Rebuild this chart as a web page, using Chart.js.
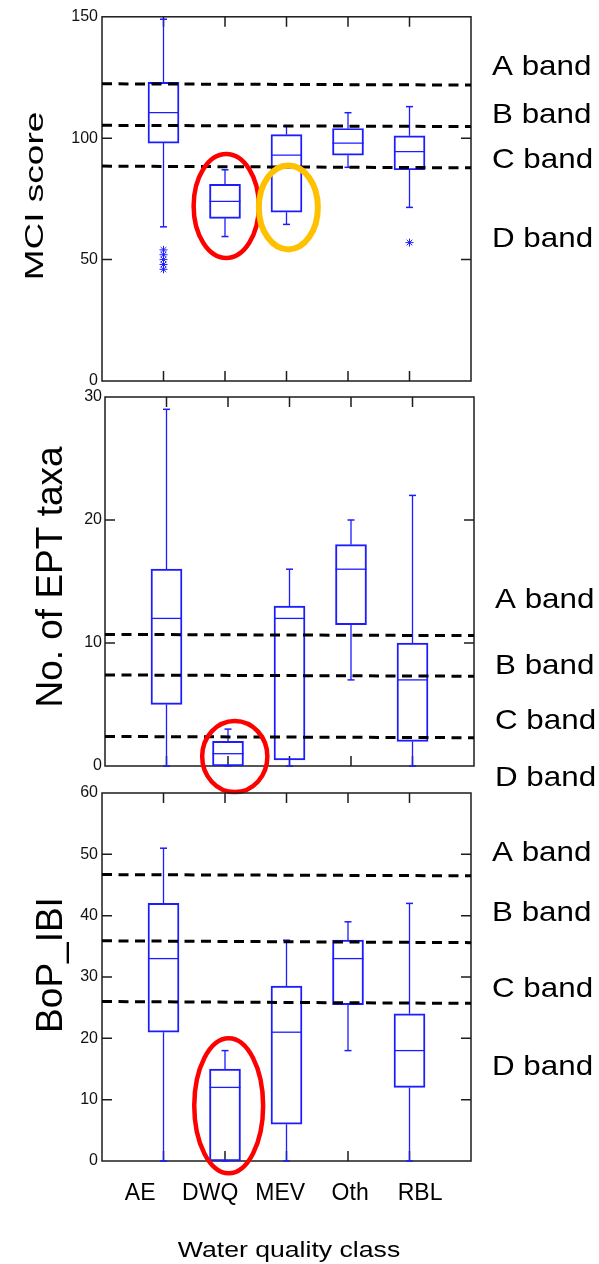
<!DOCTYPE html>
<html>
<head>
<meta charset="utf-8">
<title>Water quality class box plots</title>
<script src="https://cdn.jsdelivr.net/npm/chart.js@4.4.1/dist/chart.umd.min.js"></script>
<style>
  html, body { margin: 0; padding: 0; background: #fff; }
  #wrap { position: relative; width: 599px; height: 1264px; }
  #wrap canvas { position: absolute; left: 0; top: 0; }
</style>
</head>
<body>
<div id="wrap">
  <canvas id="mciChart" width="599" height="1264"></canvas>
  <canvas id="eptChart" width="599" height="1264"></canvas>
  <canvas id="bopChart" width="599" height="1264"></canvas>
</div>
<script>
const classes = ["AE", "DWQ", "MEV", "Oth", "RBL"];
const bandNames = ["A band", "B band", "C band", "D band"];

// MCI score
const mciMin = [63.5, 59.5, 64.5, 88, 71.5];
const mciQ1  = [98, 67, 69.5, 93, 87];
const mciMed = [110.5, 74, 93, 98, 94.5];
const mciQ3  = [123, 81, 101.5, 104, 101];
const mciMax = [149, 87, 105, 110.5, 113];
const mciOut = [[54, 52, 50, 48, 46], [], [], [], [57]];
const mciBands = [[122.4, 121.9], [105.3, 104.8], [88.5, 87.8]]; // left / right end

// No. of EPT taxa
const eptMin = [0, 0, 0, 7, 0];
const eptQ1  = [5, 0, 0.5, 11.5, 2];
const eptMed = [12, 1, 12, 16, 7];
const eptQ3  = [16, 2, 13, 18, 10];
const eptMax = [29, 3, 16, 20, 22];
const eptOut = [[], [], [], [], []];
const eptBands = [[10.7, 10.6], [7.4, 7.3], [2.4, 2.3]];

// BoP_IBI
const bopMin = [0, 0, 0, 18, 0];
const bopQ1  = [21, 0, 6, 25.5, 12];
const bopMed = [33, 12, 21, 33, 18];
const bopQ3  = [42, 15, 28.5, 36, 24];
const bopMax = [51, 18, 36, 39, 42];
const bopOut = [[], [], [], [], []];
const bopBands = [[46.7, 46.5], [35.9, 35.6], [26, 25.7]];

// highlight rings (centre x/y and radii in axis units)
const mciRings = [
  { x: 2.02, y: 72.1, rx: 0.53, ry: 21.4, color: "#ff0000", w: 4.5 },
  { x: 3.03, y: 71.5, rx: 0.48, ry: 17.3, color: "#ffc000", w: 6 }
];
const eptRings = [{ x: 2.11, y: 0.77, rx: 0.53, ry: 2.89, color: "#ff0000", w: 4.5 }];
const bopRings = [{ x: 2.06, y: 9.0, rx: 0.56, ry: 11.0, color: "#ff0000", w: 4.5 }];

const FONT = "'Liberation Sans', Arial, sans-serif";
const BLUE = "rgb(28,28,255)";

function boxDatasets(min, q1, med, q3, max, outliers, bands) {
  const whiskers = [];
  const caps = [];
  classes.forEach((c, i) => {
    const x = i + 1;
    whiskers.push({ x, y: max[i] }, { x, y: q3[i] }, { x, y: null },
                  { x, y: q1[i] }, { x, y: min[i] }, { x, y: null });
    caps.push({ x, y: max[i] }, { x, y: min[i] });
  });
  const outPts = [];
  outliers.forEach((list, i) => list.forEach(v => outPts.push({ x: i + 1, y: v })));

  const sets = [
    {
      type: "bar", order: 5,
      data: classes.map((c, i) => ({ x: i + 1, y: [q1[i], q3[i]] })),
      barThickness: 31, borderWidth: 1.3, borderSkipped: false,
      borderColor: BLUE, backgroundColor: "rgba(0,0,0,0)"
    },
    {
      type: "line", order: 4, data: whiskers,
      borderColor: BLUE, borderWidth: 1.3, pointRadius: 0, spanGaps: false
    },
    {
      type: "scatter", order: 3, data: classes.map((c, i) => ({ x: i + 1, y: med[i] })),
      pointStyle: "line", pointRadius: 15.5, borderColor: BLUE, borderWidth: 1.3
    },
    {
      type: "scatter", order: 3, data: caps, clip: false,
      pointStyle: "line", pointRadius: 3.5, borderColor: BLUE, borderWidth: 1.5
    },
    {
      type: "scatter", order: 3, data: outPts,
      pointStyle: "star", pointRadius: 4, borderColor: BLUE, borderWidth: 1
    }
  ];
  bands.forEach(b => sets.push({
    type: "line", order: 0,
    data: [{ x: 0, y: b[0] }, { x: 6, y: b[1] }],
    borderColor: "#000", borderWidth: 3, borderDash: [10, 6.5], pointRadius: 0
  }));
  return sets;
}

// frame with inward ticks, axis title, band names, rings
function decor(cfg) {
  return {
    id: "decor",
    beforeDatasetsDraw(chart) {
      const { ctx, chartArea: a, scales: { x, y } } = chart;
      ctx.save();
      ctx.strokeStyle = "#1c1c1c";
      ctx.lineWidth = 1.5;
      ctx.strokeRect(a.left, a.top, a.width, a.height);
      ctx.beginPath();
      y.ticks.forEach(t => {
        if (t.value <= y.min || t.value >= y.max) return;
        const py = y.getPixelForValue(t.value);
        ctx.moveTo(a.left, py); ctx.lineTo(a.left + 10, py);
        ctx.moveTo(a.right, py); ctx.lineTo(a.right - 10, py);
      });
      classes.forEach((c, i) => {
        const px = x.getPixelForValue(i + 1);
        ctx.moveTo(px, a.top); ctx.lineTo(px, a.top + 10);
        ctx.moveTo(px, a.bottom); ctx.lineTo(px, a.bottom - 10);
      });
      ctx.stroke();
      ctx.restore();
    },
    afterDraw(chart) {
      const { ctx, chartArea: a, scales: { x, y } } = chart;
      ctx.save();
      ctx.fillStyle = "#000";

      // y axis title, rotated
      ctx.save();
      ctx.translate(cfg.titleX, cfg.titleY);
      ctx.rotate(-Math.PI / 2);
      ctx.scale(1, cfg.titleSquash);
      ctx.font = "37px " + FONT;
      ctx.textAlign = "center";
      ctx.textBaseline = "alphabetic";
      ctx.fillText(cfg.title, 0, 0);
      ctx.restore();

      // band names on the right
      bandNames.forEach((name, i) => {
        ctx.save();
        ctx.translate(cfg.bandX, a.top + cfg.bandY[i]);
        ctx.scale(1.12, 1);
        ctx.font = "28px " + FONT;
        ctx.textAlign = "left";
        ctx.textBaseline = "alphabetic";
        ctx.fillText(name, 0, 0);
        ctx.restore();
      });

      if (cfg.xTitle) {
        ctx.save();
        ctx.translate(289, 1257);
        ctx.scale(1.21, 1);
        ctx.font = "22px " + FONT;
        ctx.textAlign = "center";
        ctx.textBaseline = "alphabetic";
        ctx.fillText(cfg.xTitle, 0, 0);
        ctx.restore();
      }

      cfg.rings.forEach(r => {
        const cx = x.getPixelForValue(r.x), cy = y.getPixelForValue(r.y);
        const rx = Math.abs(x.getPixelForValue(r.x + r.rx) - cx);
        const ry = Math.abs(y.getPixelForValue(r.y + r.ry) - cy);
        ctx.beginPath();
        ctx.ellipse(cx, cy, rx, ry, 0, 0, Math.PI * 2);
        ctx.strokeStyle = r.color;
        ctx.lineWidth = r.w;
        ctx.stroke();
      });
      ctx.restore();
    }
  };
}

function makePanel(canvasId, p) {
  const scales = {
    x: { type: "linear", min: 0, max: 6, display: false, offset: false },
    y: {
      type: "linear", min: p.yMin, max: p.yMax,
      grid: { display: false, drawTicks: false }, border: { display: false },
      ticks: { stepSize: p.yStep, padding: p.tickPad, color: "#111", font: { family: FONT, size: 16 } },
      afterFit: s => { s.width = 40; }
    }
  };
  if (p.showClasses) {
    scales.xl = {
      type: "linear", position: "bottom", min: 0.454, max: 5.727,
      grid: { display: false, drawTicks: false }, border: { display: false },
      ticks: {
        autoSkip: false, maxRotation: 0, padding: 19, color: "#000",
        font: { family: FONT, size: 23 },
        callback: v => classes[v - 1] || ""
      },
      afterBuildTicks: s => { s.ticks = classes.map((c, i) => ({ value: i + 1 })); },
      afterFit: s => { s.height = 60; }
    };
  }
  new Chart(document.getElementById(canvasId), {
    type: "scatter",
    data: { datasets: p.datasets },
    options: {
      responsive: false, animation: false, devicePixelRatio: 1,
      layout: { padding: p.padding },
      plugins: { legend: { display: false }, tooltip: { enabled: false } },
      scales
    },
    plugins: [decor(p.decor)]
  });
}

makePanel("mciChart", {
  yMin: 0, yMax: 150, yStep: 50, tickPad: 4,
  padding: { left: 62, right: 128, top: 13, bottom: 883 },
  datasets: boxDatasets(mciMin, mciQ1, mciMed, mciQ3, mciMax, mciOut, mciBands),
  decor: { title: "MCI score", titleX: 43, titleY: 196, titleSquash: 0.68,
           bandX: 492, bandY: [58, 106, 151, 230], rings: mciRings }
});

makePanel("eptChart", {
  yMin: 0, yMax: 30, yStep: 10, tickPad: 3,
  padding: { left: 65, right: 125, top: 397, bottom: 498 },
  datasets: boxDatasets(eptMin, eptQ1, eptMed, eptQ3, eptMax, eptOut, eptBands),
  decor: { title: "No. of EPT taxa", titleX: 62, titleY: 577, titleSquash: 1,
           bandX: 495, bandY: [211, 277, 332, 389], rings: eptRings }
});

makePanel("bopChart", {
  yMin: 0, yMax: 60, yStep: 10, tickPad: 4, showClasses: true,
  padding: { left: 62, right: 128, top: 793, bottom: 43 },
  datasets: boxDatasets(bopMin, bopQ1, bopMed, bopQ3, bopMax, bopOut, bopBands),
  decor: { title: "BoP_IBI", titleX: 62, titleY: 965, titleSquash: 1,
           bandX: 492, bandY: [68, 128, 204, 282], rings: bopRings,
           xTitle: "Water quality class" }
});
</script>
</body>
</html>
